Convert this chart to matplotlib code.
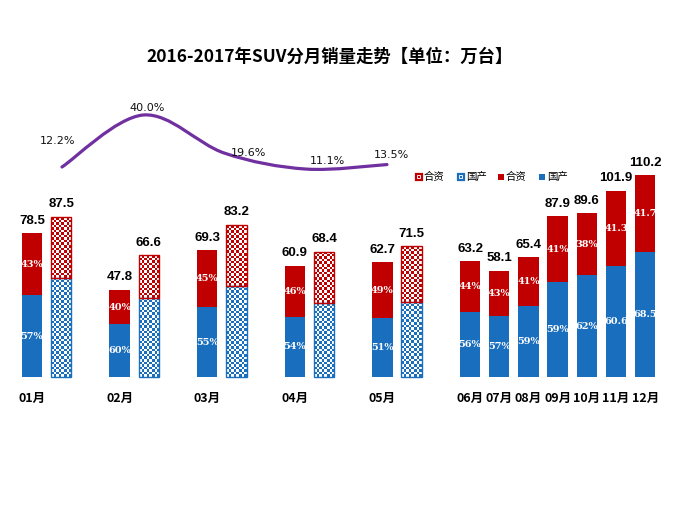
import numpy as np
import matplotlib
matplotlib.use("Agg")
import matplotlib.pyplot as plt
from matplotlib import font_manager
from matplotlib.colors import ListedColormap
from matplotlib.path import Path
from matplotlib.patches import PathPatch, Rectangle

# ---------------- data ----------------
months = ['01月', '02月', '03月', '04月', '05月', '06月', '07月', '08月', '09月', '10月', '11月', '12月']
total_2016 = [78.5, 47.8, 69.3, 60.9, 62.7, 63.2, 58.1, 65.4, 87.9, 89.6, 101.9, 110.2]
dom_2016 = [44.7, 28.7, 38.1, 32.9, 32.0, 35.4, 33.1, 38.6, 51.9, 55.6, 60.6, 68.5]
dom_labels_2016 = ['57%', '60%', '55%', '54%', '51%', '56%', '57%', '59%', '59%', '62%', '60.6', '68.5']
jv_labels_2016 = ['43%', '40%', '45%', '46%', '49%', '44%', '43%', '41%', '41%', '38%', '41.3', '41.7']
total_2017 = [87.5, 66.6, 83.2, 68.4, 71.5]
dom_2017 = [54.3, 43.3, 49.9, 40.4, 41.1]
growth = [12.2, 40.0, 19.6, 11.1, 13.5]
growth_labels = ['12.2%', '40.0%', '19.6%', '11.1%', '13.5%']
legend_labels = ['合资', '国产', '合资', '国产']
title = '2016-2017年SUV分月销量走势【单位：万台】'

BLUE = '#1A6EBE'
RED = '#C00000'
PURPLE = '#7030A0'

avail = {f.name for f in font_manager.fontManager.ttflist}
NARROW = next((f for f in ['Liberation Sans Narrow', 'Liberation Sans', 'DejaVu Sans'] if f in avail), 'DejaVu Sans')
CJK = ['Noto Sans CJK SC', 'DejaVu Sans']
plt.rcParams['font.family'] = CJK

W, H = 690, 517
fig = plt.figure(figsize=(W / 100, H / 100), dpi=100)

# ---------------- layout ----------------
slot = 29.2          # px per slot
x0px = 32.0          # px of first bar centre
base_px = 140.0      # baseline from bottom
ppu = 1.83           # px per unit (万台)
ax = fig.add_axes([0, 0, 1, 1])
ax.axis('off')

solid_pos = [0, 3, 6, 9, 12, 15, 16, 17, 18, 19, 20, 21]
check_pos = [1, 4, 7, 10, 13]
bw = 0.70

# solid bars (2016)
jv_2016 = [t - d for t, d in zip(total_2016, dom_2016)]
ax.bar(solid_pos, dom_2016, width=bw, color=BLUE, zorder=2)
ax.bar(solid_pos, jv_2016, bottom=dom_2016, width=bw, color=RED, zorder=2)
for x, d, j, t, dl, jl in zip(solid_pos, dom_2016, jv_2016, total_2016, dom_labels_2016, jv_labels_2016):
    ax.text(x, d / 2, dl, ha='center', va='center', color='white', fontsize=7,
            fontweight='bold', family='DejaVu Serif', zorder=5)
    ax.text(x, d + j / 2, jl, ha='center', va='center', color='white', fontsize=7,
            fontweight='bold', family='DejaVu Serif', zorder=5)
    ax.text(x, t + 3.5, f'{t:.1f}', ha='center', va='bottom', color='black', fontsize=9.5,
            fontweight='bold', family=NARROW, zorder=5)

# checkered bars (2017)
jv_2017 = [t - d for t, d in zip(total_2017, dom_2017)]
def checker(patches, color):
    cmap = ListedColormap(['white', color])
    for p in patches:
        bx, by = p.get_x(), p.get_y()
        bwid, bh = p.get_width(), p.get_height()
        ncol = 8
        cell_px = bwid * slot / ncol
        nrow = max(1, int(round(bh * ppu / cell_px)))
        arr = (np.add.outer(np.arange(nrow), np.arange(ncol)) % 2).astype(float)
        im = ax.imshow(arr, extent=[bx, bx + bwid, by, by + bh], cmap=cmap, vmin=0, vmax=1,
                       interpolation='nearest', aspect='auto', origin='lower', zorder=2)
        im.set_clip_path(p)
        p.set_facecolor('none')
        p.set_edgecolor(color)
        p.set_linewidth(1.0)
        p.set_zorder(3)

b1 = ax.bar(check_pos, dom_2017, width=bw, zorder=3)
checker(b1, BLUE)
b2 = ax.bar(check_pos, jv_2017, bottom=dom_2017, width=bw, zorder=3)
checker(b2, RED)
for x, t in zip(check_pos, total_2017):
    ax.text(x, t + 3.5, f'{t:.1f}', ha='center', va='bottom', color='black', fontsize=9.5,
            fontweight='bold', family=NARROW, zorder=5)

# month labels
for x, m in zip(solid_pos, months):
    ax.text(x, -11.5, m, ha='center', va='center', fontsize=9, fontweight='bold', family=CJK)

ax.set_xlim(-x0px / slot, (W - x0px) / slot)
ax.set_ylim(-base_px / ppu, (H - base_px) / ppu)

# ---------------- growth line ----------------
ax2 = fig.add_axes([0, 0, 1, 1], facecolor='none')
lx0, lstep = 62.0, 81.25
gppu = 1.87
g0px = 327.2
ax2.set_xlim(-lx0 / lstep, (W - lx0) / lstep)
ax2.set_ylim(-g0px / gppu, (H - g0px) / gppu)
ax2.axis('off')
xs = np.arange(len(growth), dtype=float)
ys = np.array(growth, dtype=float)
verts = [(xs[0], ys[0])]
codes = [Path.MOVETO]
n = len(xs)
for i in range(n - 1):
    pm = np.array([xs[max(i - 1, 0)], ys[max(i - 1, 0)]])
    p0 = np.array([xs[i], ys[i]])
    p1 = np.array([xs[i + 1], ys[i + 1]])
    pp = np.array([xs[min(i + 2, n - 1)], ys[min(i + 2, n - 1)]])
    c1 = p0 + (p1 - pm) / 6.0
    c2 = p1 - (pp - p0) / 6.0
    verts += [tuple(c1), tuple(c2), tuple(p1)]
    codes += [Path.CURVE4] * 3
ax2.add_patch(PathPatch(Path(verts, codes), facecolor='none', edgecolor=PURPLE, lw=2.3,
                        capstyle='round', zorder=4))
label_off = [(-0.06, 14.0), (0.05, 3.5), (0.3, 0.0), (0.27, 4.5), (0.06, 5.0)]
for x, y, lab, (dx, dy) in zip(xs, ys, growth_labels, label_off):
    ax2.text(x + dx, y + dy, lab, ha='center', va='center', fontsize=8, family='DejaVu Sans',
             color='#111111', zorder=6)

# ---------------- legend ----------------
leg_x = [419, 461, 501, 542]
leg_col = [RED, BLUE, RED, BLUE]
leg_check = [True, True, False, False]
ly = H - 177
for lxp, c, chk, lab in zip(leg_x, leg_col, leg_check, legend_labels):
    if chk:
        r = Rectangle(((lxp - 3) / W, (ly - 3) / H), 6 / W, 6 / H, transform=fig.transFigure,
                      facecolor='white', edgecolor=c, lw=1.6)
        fig.patches.append(r)
        r2 = Rectangle(((lxp - 1) / W, (ly - 1) / H), 2 / W, 2 / H, transform=fig.transFigure,
                       facecolor=c, edgecolor='none')
        fig.patches.append(r2)
    else:
        r = Rectangle(((lxp - 3) / W, (ly - 3) / H), 6 / W, 6 / H, transform=fig.transFigure,
                      facecolor=c, edgecolor='none')
        fig.patches.append(r)
    fig.text((lxp + 5) / W, ly / H, lab, ha='left', va='center', fontsize=7.5, family=CJK)

# ---------------- title ----------------
fig.text(330 / W, 1 - 57 / H, title, ha='center', va='center', fontsize=12.5,
         fontweight='bold', family=CJK)

fig.savefig('out.png', dpi=100)
